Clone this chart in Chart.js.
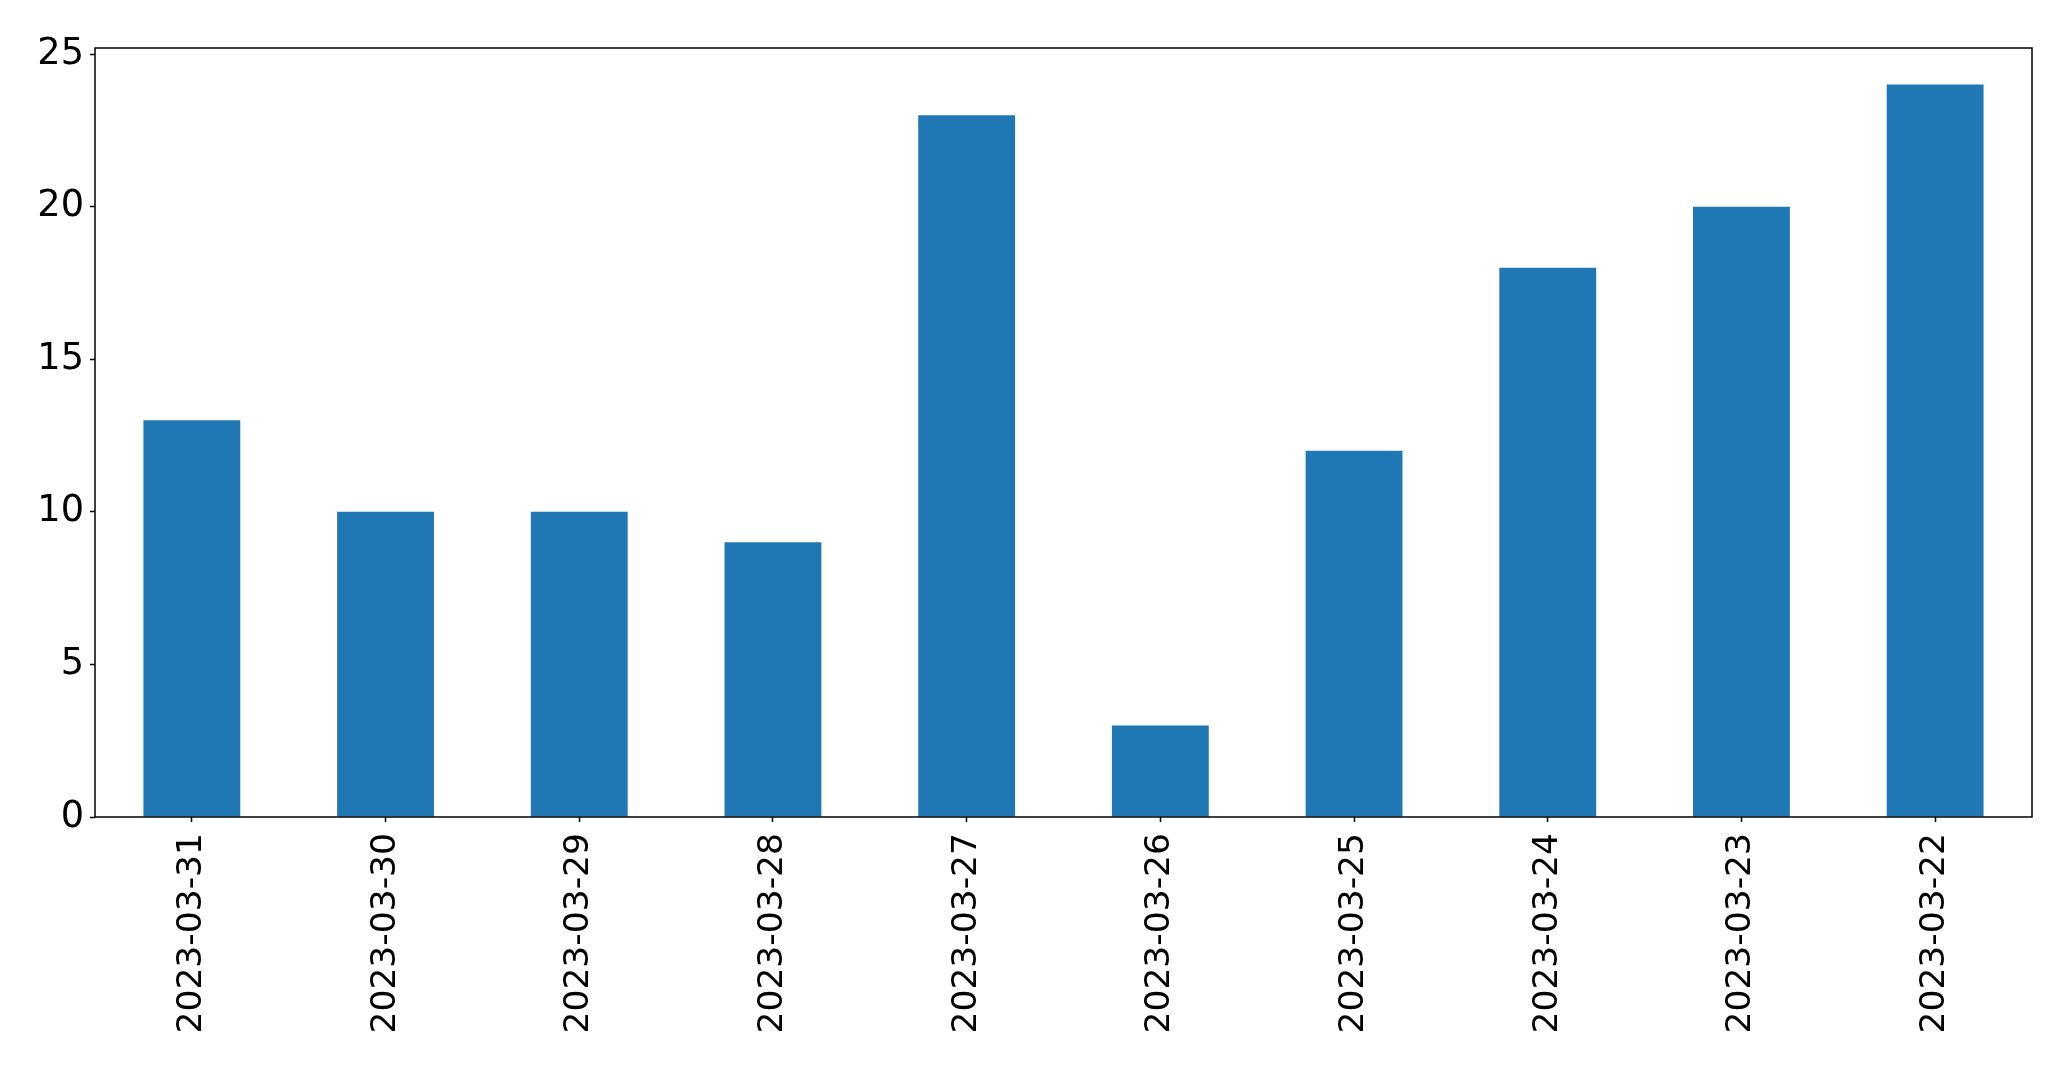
<!DOCTYPE html>
<html>
<head>
<meta charset="utf-8">
<script src="https://cdn.jsdelivr.net/npm/chart.js@4/dist/chart.umd.min.js"></script>
<style>
  body { margin: 0; background: #ffffff; }
  #wrap { width: 2071px; height: 1069px; }
</style>
</head>
<body>
<div id="wrap"><canvas id="chart"></canvas></div>
<script>
// Data
const dates = ['2023-03-31', '2023-03-30', '2023-03-29', '2023-03-28', '2023-03-27',
               '2023-03-26', '2023-03-25', '2023-03-24', '2023-03-23', '2023-03-22'];
const counts = [13, 10, 10, 9, 23, 3, 12, 18, 20, 24];
const yTicks = [0, 5, 10, 15, 20, 25];
const yMax = 25.2;

const Y_FONT = { family: 'DejaVu Sans', size: 36.7 };
const X_FONT = { family: 'DejaVu Sans', size: 34.5 };

// Draw the full black frame around the plot area
const frame = {
  id: 'frame',
  afterDraw(chart) {
    const a = chart.chartArea;
    const ctx = chart.ctx;
    ctx.save();
    ctx.strokeStyle = '#000000';
    ctx.lineWidth = 1.5;
    ctx.strokeRect(a.left, a.top, a.right - a.left, a.bottom - a.top);
    ctx.restore();
  }
};

new Chart(document.getElementById('chart'), {
  type: 'bar',
  data: {
    labels: dates,
    datasets: [{
      data: counts,
      backgroundColor: '#1f77b4',
      borderWidth: 0,
      categoryPercentage: 1.0,
      barPercentage: 0.5
    }]
  },
  options: {
    responsive: true,
    maintainAspectRatio: false,
    animation: false,
    layout: { padding: { left: 0, right: 39, top: 48, bottom: 0 } },
    plugins: {
      legend: { display: false },
      tooltip: { enabled: false }
    },
    scales: {
      x: {
        offset: true,
        border: { display: false },
        grid: {
          drawOnChartArea: false,
          drawTicks: true,
          tickLength: 5,
          tickColor: '#000000',
          tickWidth: 1.5,
          offset: false
        },
        ticks: {
          color: '#000000',
          font: X_FONT,
          minRotation: 90,
          maxRotation: 90,
          padding: 11,
          autoSkip: false
        },
        afterFit(scale) { scale.height = 252; }
      },
      y: {
        min: 0,
        max: yMax,
        border: { display: false },
        grid: {
          drawOnChartArea: false,
          drawTicks: true,
          tickLength: 5,
          tickColor: '#000000',
          tickWidth: 1.5
        },
        ticks: {
          color: '#000000',
          font: Y_FONT,
          padding: 6
        },
        afterBuildTicks(scale) {
          scale.ticks = yTicks.map(v => ({ value: v }));
        },
        afterFit(scale) { scale.width = 95; }
      }
    }
  },
  plugins: [frame]
});
</script>
</body>
</html>
